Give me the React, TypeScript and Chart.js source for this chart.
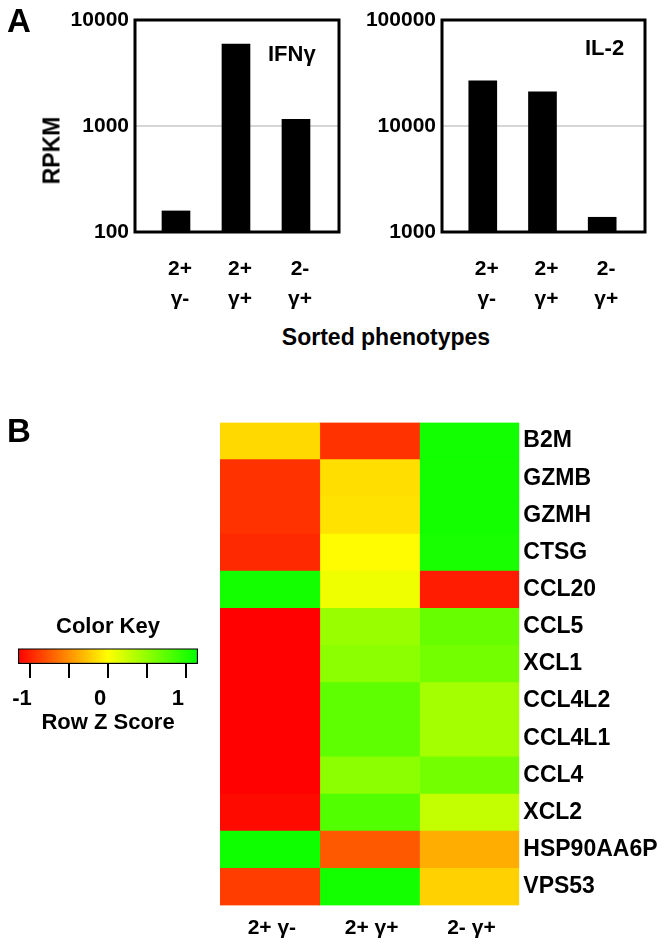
import React, { useEffect, useRef } from 'react';
import { Chart, registerables } from 'chart.js';

Chart.register(...registerables);

// ---------- Data ----------
const barCategories: string[][] = [['2+', 'γ-'], ['2+', 'γ+'], ['2-', 'γ+']];
const ifngValues = [158, 5940, 1157];
const il2Values = [26660, 20980, 1377];
const ifngTicks = [100, 1000, 10000];
const il2Ticks = [1000, 10000, 100000];

const genes = ['B2M', 'GZMB', 'GZMH', 'CTSG', 'CCL20', 'CCL5', 'XCL1', 'CCL4L2', 'CCL4L1', 'CCL4', 'XCL2', 'HSP90AA6P', 'VPS53'];
const heatColumns = ['2+ γ-', '2+ γ+', '2- γ+'];
const zCol1 = [-0.17, -0.93, -0.93, -0.97, 1.07, -1.15, -1.15, -1.15, -1.15, -1.15, -1.11, 1.09, -0.88];
const zCol2 = [-0.93, -0.15, -0.13, -0.02, 0.07, 0.46, 0.52, 0.73, 0.73, 0.52, 0.79, -0.75, 1.07];
const zCol3 = [1.08, 1.07, 1.07, 1.05, -1.03, 0.69, 0.63, 0.41, 0.41, 0.63, 0.27, -0.37, -0.21];

const keyTicks = [-1, -0.5, 0, 0.5, 1];
const keyTickLabels = ['-1', '', '0', '', '1'];
const keyColors = [[255, 0, 0], [255, 255, 0], [0, 255, 0]];
const zLimit = 1.155;

// ---------- Styling helpers ----------
const FONT = "'Liberation Sans', Arial, Helvetica, sans-serif";

function zColor(z: number): string {
  let t = (z + zLimit) / (2 * zLimit);
  t = Math.max(0, Math.min(1, t));
  const seg = t < 0.5 ? 0 : 1;
  const lt = t < 0.5 ? t / 0.5 : (t - 0.5) / 0.5;
  const a = keyColors[seg];
  const b = keyColors[seg + 1];
  const c = a.map((v, i) => Math.round(v + (b[i] - v) * lt));
  return `rgb(${c[0]},${c[1]},${c[2]})`;
}

const framePlugin = {
  id: 'frame',
  afterDatasetsDraw(chart: any) {
    const { ctx, chartArea } = chart;
    const { left, top, right, bottom } = chartArea;
    ctx.save();
    ctx.strokeStyle = '#000';
    ctx.lineWidth = 3;
    ctx.strokeRect(left, top, right - left, bottom - top);
    ctx.restore();
  },
};

function barConfig(values: number[], ticks: number[], yWidth: number, rightPad: number): any {
  return {
    type: 'bar',
    data: {
      datasets: [
        {
          data: values.map((v, i) => ({ x: i, y: v })),
          backgroundColor: '#000',
          borderWidth: 0,
          barThickness: 28,
        },
      ],
    },
    options: {
      animation: false,
      responsive: false,
      maintainAspectRatio: false,
      layout: { padding: { top: 20, right: rightPad, left: 0, bottom: 0 } },
      plugins: { legend: { display: false }, tooltip: { enabled: false } },
      scales: {
        x: {
          type: 'linear',
          offset: false,
          min: -0.683,
          max: 2.717,
          afterBuildTicks: (s: any) => {
            s.ticks = barCategories.map((_, i) => ({ value: i }));
          },
          ticks: {
            callback: (v: any) => barCategories[Math.round(Number(v))],
            font: { family: FONT, weight: 'bold', size: 21, lineHeight: 30 / 21 },
            color: '#000',
            padding: 14,
            autoSkip: false,
            maxRotation: 0,
            labelOffset: 4,
          },
          grid: { display: false, offset: false },
          border: { display: false },
          afterFit: (s: any) => {
            s.height = 88;
          },
        },
        y: {
          type: 'logarithmic',
          min: ticks[0],
          max: ticks[ticks.length - 1],
          afterBuildTicks: (s: any) => {
            s.ticks = ticks.map((v) => ({ value: v }));
          },
          ticks: {
            callback: (v: any) => String(v),
            font: { family: FONT, weight: 'bold', size: 21 },
            color: '#000',
            padding: 6,
          },
          grid: {
            color: (ctx: any) => (ctx.tick && ctx.tick.value === ticks[1] ? '#d6d6d6' : 'rgba(0,0,0,0)'),
            lineWidth: 2,
            drawTicks: false,
          },
          border: { display: false },
          afterFit: (s: any) => {
            s.width = yWidth;
          },
        },
      },
    },
    plugins: [framePlugin],
  };
}

function heatConfig(): any {
  const zColumns = [zCol1, zCol2, zCol3];
  return {
    type: 'bar',
    data: {
      labels: genes,
      datasets: zColumns.map((col, c) => ({
        data: genes.map(() => [c, c + 1]),
        backgroundColor: col.map(zColor),
        borderWidth: 0,
        barPercentage: 1,
        categoryPercentage: 1,
        grouped: false,
      })),
    },
    options: {
      indexAxis: 'y',
      animation: false,
      responsive: false,
      maintainAspectRatio: false,
      layout: { padding: { top: 32.5, left: 20, right: 0, bottom: 0 } },
      plugins: { legend: { display: false }, tooltip: { enabled: false } },
      scales: {
        x: {
          type: 'linear',
          min: 0,
          max: heatColumns.length,
          afterBuildTicks: (s: any) => {
            s.ticks = heatColumns.map((_, i) => ({ value: i + 0.5 }));
          },
          ticks: {
            callback: (v: any) => heatColumns[Math.floor(Number(v))],
            font: { family: FONT, weight: 'bold', size: 21 },
            color: '#000',
            padding: 2,
            autoSkip: false,
            maxRotation: 0,
            labelOffset: 2,
          },
          grid: { display: false },
          border: { display: false },
          afterFit: (s: any) => {
            s.height = 39.5;
          },
        },
        y: {
          type: 'category',
          position: 'right',
          ticks: {
            font: { family: FONT, weight: 'bold', size: 23 },
            color: '#000',
            padding: 4,
            autoSkip: false,
          },
          grid: { display: false, drawTicks: false },
          border: { display: false },
          afterFit: (s: any) => {
            s.width = 144.7;
          },
        },
      },
    },
  };
}

function keyConfig(): any {
  return {
    type: 'bar',
    data: {
      labels: ['key'],
      datasets: [
        {
          data: [[-zLimit, zLimit]],
          backgroundColor: (ctx: any) => {
            const chart = ctx.chart;
            const area = chart.chartArea;
            if (!area) return '#ffff00';
            const g = chart.ctx.createLinearGradient(area.left, 0, area.right, 0);
            keyColors.forEach((c, i) => g.addColorStop(i / (keyColors.length - 1), `rgb(${c[0]},${c[1]},${c[2]})`));
            return g;
          },
          borderColor: '#000',
          borderWidth: 1.5,
          borderSkipped: false,
          barPercentage: 1,
          categoryPercentage: 1,
        },
      ],
    },
    options: {
      indexAxis: 'y',
      animation: false,
      responsive: false,
      maintainAspectRatio: false,
      layout: { padding: { top: 0, left: 18, right: 17, bottom: 0 } },
      plugins: {
        legend: { display: false },
        tooltip: { enabled: false },
        title: {
          display: true,
          text: 'Color Key',
          font: { family: FONT, weight: 'bold', size: 22 },
          color: '#000',
          padding: { top: 14, bottom: 8 },
        },
      },
      scales: {
        y: { display: false },
        x: {
          type: 'linear',
          min: -zLimit,
          max: zLimit,
          afterBuildTicks: (s: any) => {
            s.ticks = keyTicks.map((v) => ({ value: v }));
          },
          ticks: {
            callback: (v: any) => keyTickLabels[keyTicks.indexOf(Number(v))],
            font: { family: FONT, weight: 'bold', size: 22 },
            color: '#000',
            padding: 8,
            autoSkip: false,
            maxRotation: 0,
            labelOffset: -8,
          },
          grid: { display: true, drawOnChartArea: false, drawTicks: true, tickLength: 14, color: '#000', lineWidth: 2 },
          border: { display: false },
          title: {
            display: true,
            text: 'Row Z Score',
            font: { family: FONT, weight: 'bold', size: 22 },
            color: '#000',
            padding: { top: 0, bottom: 4 },
          },
          afterFit: (s: any) => {
            s.height = 76;
          },
        },
      },
    },
  };
}

type LabelProps = {
  x: number;
  y: number;
  size: number;
  text: string;
  align?: 'left' | 'center' | 'right';
  rotate?: boolean;
};

function Label({ x, y, size, text, align = 'left', rotate = false }: LabelProps) {
  const tx = align === 'left' ? '0%' : align === 'center' ? '-50%' : '-100%';
  const style: React.CSSProperties = {
    position: 'absolute',
    left: x,
    top: y - size / 2,
    fontFamily: FONT,
    fontWeight: 'bold',
    fontSize: size,
    lineHeight: `${size}px`,
    whiteSpace: 'nowrap',
    color: '#000',
    transform: rotate ? 'translate(-50%, 0) rotate(-90deg)' : `translate(${tx}, 0)`,
    transformOrigin: rotate ? 'center center' : undefined,
  };
  return <div style={style}>{text}</div>;
}

export default function App() {
  const leftRef = useRef<HTMLCanvasElement>(null);
  const rightRef = useRef<HTMLCanvasElement>(null);
  const heatRef = useRef<HTMLCanvasElement>(null);
  const keyRef = useRef<HTMLCanvasElement>(null);

  useEffect(() => {
    document.body.style.margin = '0';
    const charts: Chart[] = [];
    if (leftRef.current) charts.push(new Chart(leftRef.current, barConfig(ifngValues, ifngTicks, 135, 6)));
    if (rightRef.current) charts.push(new Chart(rightRef.current, barConfig(il2Values, il2Ticks, 97, 19)));
    if (heatRef.current) charts.push(new Chart(heatRef.current, heatConfig()));
    if (keyRef.current) charts.push(new Chart(keyRef.current, keyConfig()));
    return () => charts.forEach((c) => c.destroy());
  }, []);

  const canvasStyle = (left: number, top: number, w: number, h: number): React.CSSProperties => ({
    position: 'absolute',
    left,
    top,
    width: w,
    height: h,
  });

  return (
    <div style={{ position: 'relative', width: 664, height: 945, background: '#fff', overflow: 'hidden' }}>
      <canvas ref={leftRef} width={345} height={320} style={canvasStyle(0, 0, 345, 320)} />
      <canvas ref={rightRef} width={319} height={320} style={canvasStyle(345, 0, 319, 320)} />
      <canvas ref={heatRef} width={464} height={555} style={canvasStyle(200, 390, 464, 555)} />
      <canvas ref={keyRef} width={215} height={140} style={canvasStyle(0, 600, 215, 140)} />
      <Label x={7} y={20} size={33} text="A" />
      <Label x={7} y={430} size={33} text="B" />
      <Label x={268} y={53.5} size={22} text="IFNγ" />
      <Label x={585} y={47.5} size={22} text="IL-2" />
      <Label x={52} y={150} size={23} text="RPKM" rotate />
      <Label x={386} y={337} size={23} text="Sorted phenotypes" align="center" />
    </div>
  );
}
